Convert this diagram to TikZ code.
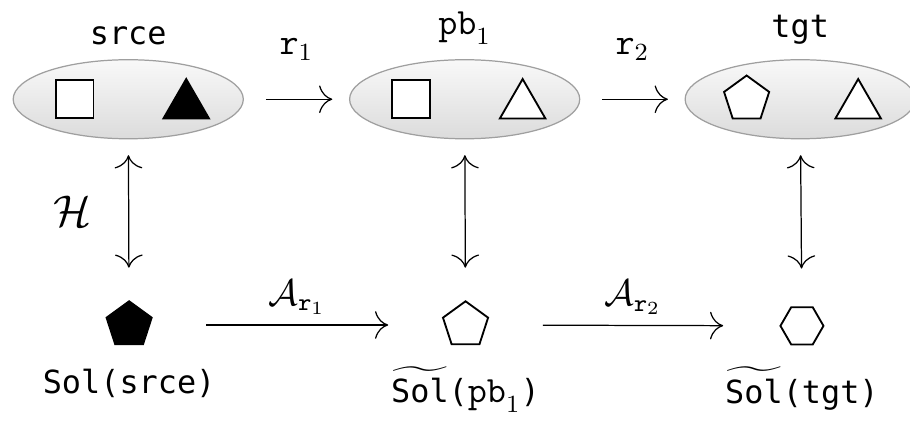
\documentclass[tikz,border=0pt]{standalone}
\usepackage[no-math]{fontspec}
\setmonofont[Scale=0.86]{DejaVu Sans Mono}
\usepackage{amsmath}
\usepackage{tikz}
\usetikzlibrary{arrows.meta, positioning, shapes.geometric}

\begin{document}
\begin{tikzpicture}[
        font=\fontsize{12}{14}\selectfont,
        pbm/.style={
            draw=gray!75,
            ellipse,
            minimum width=2.62cm,
            minimum height=0.9cm,
            top color=gray!5,
            bottom color=gray!28
        },
        sq/.style={draw, semithick, fill=white, minimum size=0.43cm, inner sep=0},
        tri/.style={draw, semithick, fill=white, regular polygon, regular polygon sides=3,
            minimum size=0.6cm, inner sep=0, yshift=-0.7mm},
        pent/.style={draw, semithick, fill=white, regular polygon, regular polygon sides=5,
            minimum size=0.54cm, inner sep=0},
        hex/.style={draw, semithick, fill=white, regular polygon, regular polygon sides=6,
            minimum size=0.49cm, inner sep=0},
        arrow/.style={-{To[length=1.5mm]}, thin},
        dbl/.style={{To[length=1.5mm]}-{To[length=1.5mm]}, thin, shorten <=0.18cm, shorten >=0.37cm}
    ]
    \useasboundingbox (0,0) rectangle (10.36,-4.80);

    % problems
    \node[pbm] (srce) at (1.46,-1.13) {};
    \node[pbm] (pb1) at (5.29,-1.13) {};
    \node[pbm] (tgt) at (9.11,-1.13) {};
    \node[above=0.04cm of srce] (srcelbl) {\texttt{srce}};
    \node[above=0.04cm of pb1] (pblbl) {$\mathtt{pb}_1$};
    \node[above=0.04cm of tgt] (tgtlbl) {\texttt{tgt}};

    % pieces inside
    \node[sq] (srcea) at ([xshift=-0.61cm]srce.center) {};
    \node[tri, fill=black] (srceb) at ([xshift=0.66cm]srce.center) {};
    \node[sq] (pba) at ([xshift=-0.61cm]pb1.center) {};
    \node[tri] (pbb) at ([xshift=0.66cm]pb1.center) {};
    \node[pent] (tgta) at ([xshift=-0.61cm]tgt.center) {};
    \node[tri] (tgtb) at ([xshift=0.66cm]tgt.center) {};

    % solutions
    \node[pent, fill=black] (srcesol) at (1.47,-3.70) {};
    \node[pent] (pbsol) at (5.30,-3.70) {};
    \node[hex] (tgtsol) at (9.13,-3.71) {};
    \node[below=0.15cm of srcesol] (srcesollbl) {\texttt{Sol(srce)}};
    \node[below=0.12cm of pbsol] (pbsollbl) {$\widetilde{\texttt{Sol}}$\texttt{(}$\mathtt{pb}_1$\texttt{)}};
    \node[below=0.12cm of tgtsol] (tgtsollbl) {$\widetilde{\texttt{Sol}}$\texttt{(tgt)}};

    \draw[arrow, shorten <=0.25cm, shorten >=0.19cm] (srce) -- node[above=0.32cm] (r1) {$\mathtt{r}_1$} (pb1);
    \draw[arrow, shorten <=0.25cm, shorten >=0.19cm] (pb1) -- node[above=0.32cm] (r2) {$\mathtt{r}_2$} (tgt);

    \draw[dbl] (srce) -- node[left=0.3cm, pos=0.45] (hlbl) {\Large$\mathcal{H}$} (srcesol);
    \draw[dbl] (pb1) -- (pbsol);
    \draw[dbl, shorten >=0.43cm] (tgt) -- (tgtsol);

    \draw[arrow, shorten <=0.64cm, shorten >=0.64cm] (srcesol) -- node[above=0pt] (a1) {$\mathcal{A}_{\mathtt{r}_1}$} (pbsol);
    \draw[arrow, shorten <=0.64cm, shorten >=0.64cm] (pbsol) -- node[above=0pt] (a2) {$\mathcal{A}_{\mathtt{r}_2}$} (tgtsol);
\end{tikzpicture}
\end{document}
